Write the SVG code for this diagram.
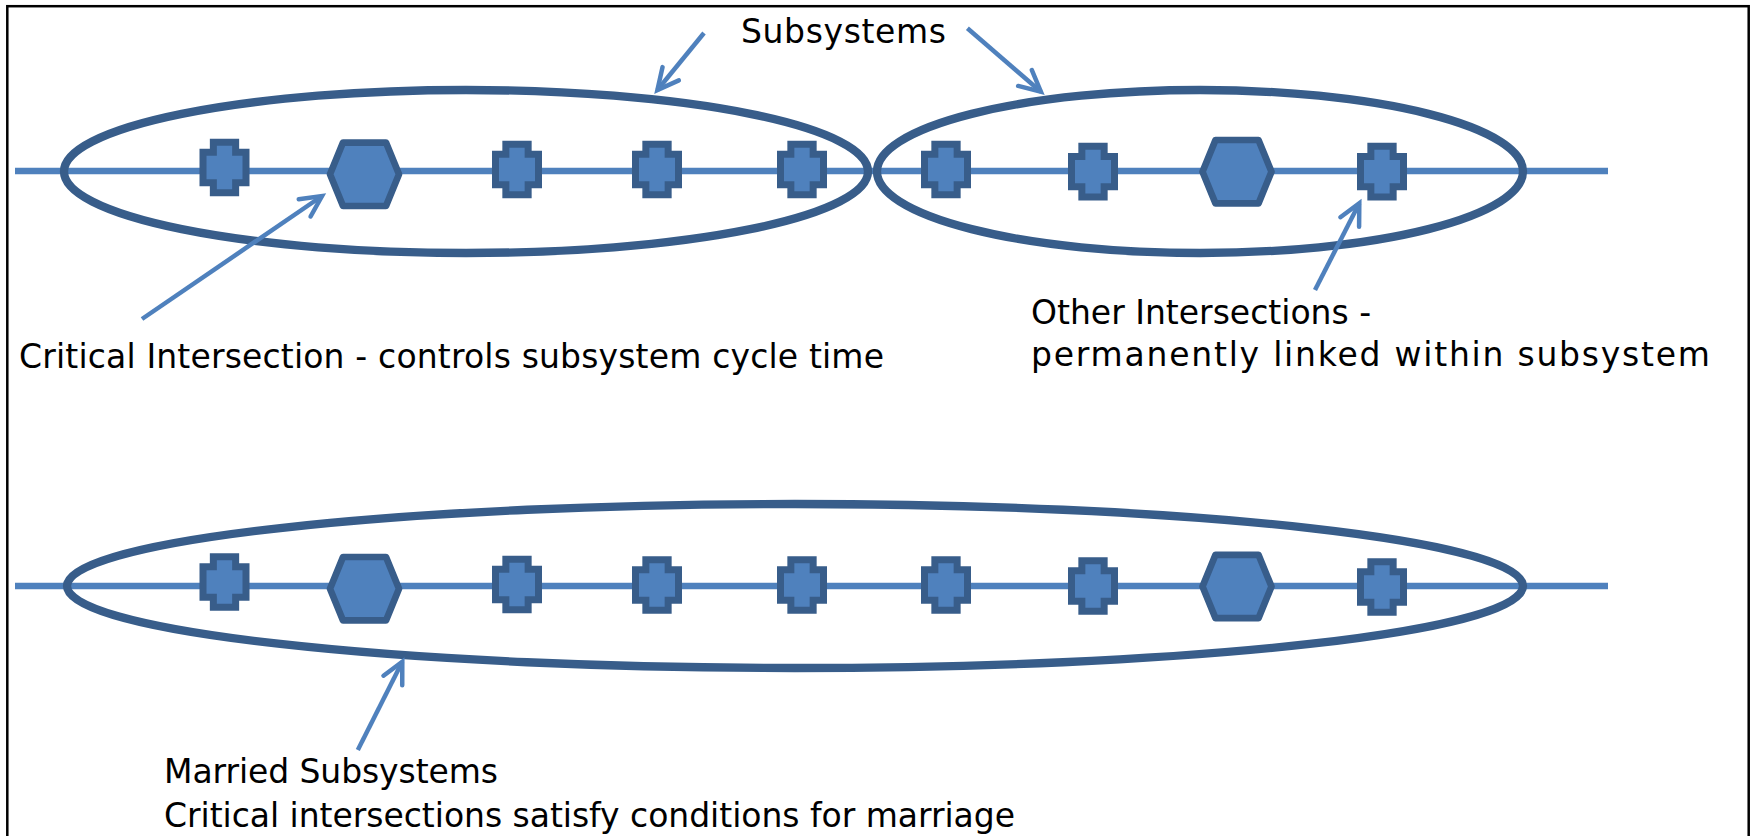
<svg xmlns="http://www.w3.org/2000/svg" xmlns:xlink="http://www.w3.org/1999/xlink" width="1754" height="836" viewBox="0 0 1754 836">
<style>
.track{stroke:#4F81BD;stroke-width:6.5;fill:none}
.sub{fill:none;stroke:#385D8A;stroke-width:8.3}
.node{fill:#4F81BD;stroke:#385D8A;stroke-width:7}
.hex{fill:#4F81BD;stroke:#385D8A;stroke-width:6.7;stroke-linejoin:round}
.arrow{stroke:#4F81BD;stroke-width:4.5;fill:none;marker-end:url(#head)}
.lbl{font-family:"DejaVu Sans","Liberation Sans",sans-serif;font-size:33px;fill:#000}
</style>
<defs>
<marker id="head" markerUnits="userSpaceOnUse" markerWidth="30" markerHeight="30" refX="0" refY="0" orient="auto" overflow="visible">
<path d="M-21,-10.5 L0,0 L-21,10.5" fill="none" stroke="#4F81BD" stroke-width="4.5" stroke-linecap="round" stroke-linejoin="miter"/>
</marker>
<path id="cross" class="node" d="M-11.15,-25.35 h22.3 v10.2 h10.35 v30.3 h-10.35 v10.2 h-22.3 v-10.2 h-10.35 v-30.3 h10.35 z"/>
<polygon id="hexa" class="hex" points="-34.5,0 -21.5,-31.7 21.5,-31.7 34.5,0 21.5,31.7 -21.5,31.7"/>
</defs>
<rect x="7.3" y="6.2" width="1741.4" height="900" fill="#fff" stroke="#000" stroke-width="2.5"/>
<g id="tracks">
<line class="track" x1="15" y1="171" x2="1608" y2="171"/>
<line class="track" x1="15" y1="586" x2="1608" y2="586"/>
</g>
<g id="subsystem-1"><ellipse class="sub" cx="466" cy="171.5" rx="402" ry="81.5"/></g>
<g id="subsystem-2"><ellipse class="sub" cx="1200" cy="171.5" rx="323" ry="81.5"/></g>
<g id="married-subsystem"><ellipse class="sub" cx="795" cy="586" rx="728" ry="82"/></g>
<g id="top-nodes">
<g id="t1"><use xlink:href="#cross" x="224.5" y="167.5"/></g>
<g id="t2"><use xlink:href="#hexa" x="364.5" y="174.3"/></g>
<g id="t3"><use xlink:href="#cross" x="517" y="169.5"/></g>
<g id="t4"><use xlink:href="#cross" x="657" y="169.5"/></g>
<g id="t5"><use xlink:href="#cross" x="802" y="169.5"/></g>
<g id="t6"><use xlink:href="#cross" x="946" y="169.5"/></g>
<g id="t7"><use xlink:href="#cross" x="1093" y="171.7"/></g>
<g id="t8"><use xlink:href="#hexa" x="1237" y="171.7"/></g>
<g id="t9"><use xlink:href="#cross" x="1382" y="171.7"/></g>
</g>
<g id="bottom-nodes">
<g id="b1"><use xlink:href="#cross" x="224.5" y="582"/></g>
<g id="b2"><use xlink:href="#hexa" x="364.5" y="588.7"/></g>
<g id="b3"><use xlink:href="#cross" x="517" y="584.5"/></g>
<g id="b4"><use xlink:href="#cross" x="657" y="585"/></g>
<g id="b5"><use xlink:href="#cross" x="802" y="585"/></g>
<g id="b6"><use xlink:href="#cross" x="946" y="585"/></g>
<g id="b7"><use xlink:href="#cross" x="1093" y="586"/></g>
<g id="b8"><use xlink:href="#hexa" x="1237" y="586.5"/></g>
<g id="b9"><use xlink:href="#cross" x="1382" y="587"/></g>
</g>
<g id="connectors">
<line class="arrow" x1="704" y1="33" x2="657.4" y2="90"/>
<line class="arrow" x1="967.4" y1="28.3" x2="1040.9" y2="91.7"/>
<line class="arrow" x1="142" y1="319" x2="322" y2="196"/>
<line class="arrow" x1="1315" y1="290" x2="1359.3" y2="203.3"/>
<line class="arrow" x1="357.8" y1="750" x2="402.3" y2="661.7"/>
</g>
<g id="labels">
<text class="lbl" x="741" y="43" textLength="205" lengthAdjust="spacing">Subsystems</text>
<text class="lbl" x="19" y="368" textLength="865" lengthAdjust="spacing">Critical Intersection - controls subsystem cycle time</text>
<text class="lbl" x="1031" y="324">Other Intersections -</text>
<text class="lbl" x="1031" y="366" textLength="679" lengthAdjust="spacing">permanently linked within subsystem</text>
<text class="lbl" x="164" y="783" textLength="334" lengthAdjust="spacing">Married Subsystems</text>
<text class="lbl" x="164" y="827" textLength="851" lengthAdjust="spacing">Critical intersections satisfy conditions for marriage</text>
</g>
</svg>
